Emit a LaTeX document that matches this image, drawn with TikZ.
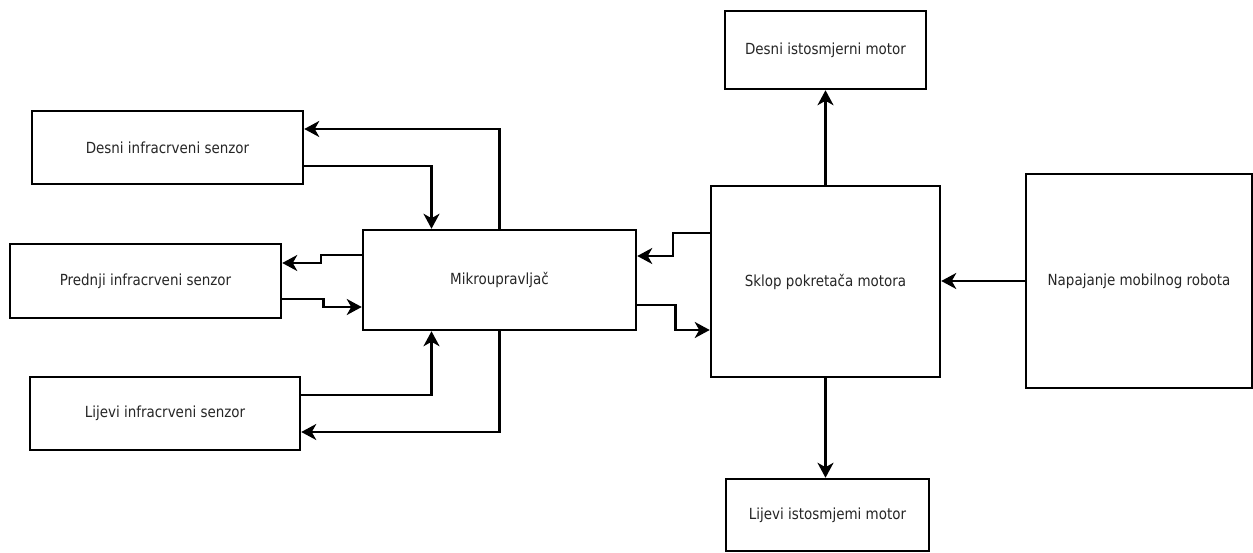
\documentclass[tikz,border=0pt]{standalone}
\usepackage{fontspec}
\setmainfont{DejaVu Sans}[FakeStretch=0.88]
\usetikzlibrary{arrows.meta}
\begin{document}
\begin{tikzpicture}[x=1pt,y=-1pt,
  blk/.style={draw=black,line width=2.5pt,fill=white,inner sep=0pt,font=\fontsize{15.3}{18}\selectfont,text=black!85},
  arr/.style={line width=2.5pt,-{Stealth[length=15pt,width=16pt,inset=4.5pt]}}]
\useasboundingbox[fill=white] (0,0) rectangle (1253,553);
\node[blk,minimum width=271pt,minimum height=73pt] (ds) at (167.5,147.5) {Desni infracrveni senzor};
\node[blk,minimum width=271pt,minimum height=74pt] (pr) at (145.5,281) {Prednji infracrveni senzor};
\node[blk,minimum width=270pt,minimum height=73pt] (lj) at (165,413.5) {Lijevi infracrveni senzor};
\node[blk,minimum width=273pt,minimum height=100pt] (mk) at (499.5,280) {Mikroupravljač};
\node[blk,minimum width=229pt,minimum height=191pt] (sk) at (825.5,281.5) {Sklop pokretača motora};
\node[blk,minimum width=201pt,minimum height=78pt] (dm) at (825.5,50) {Desni istosmjerni motor};
\node[blk,minimum width=203pt,minimum height=72pt] (lm) at (827.5,515) {Lijevi istosmjemi motor};
\node[blk,minimum width=226pt,minimum height=214pt] (np) at (1139,281) {Napajanje mobilnog robota};
% sensors
\draw[arr] (mk.north) |- ([yshift=18.5pt]ds.east);
\draw[arr] ([yshift=-18.5pt]ds.east) -| ([xshift=-68pt]mk.north);
\draw[arr] ([yshift=18.5pt]lj.east) -| ([xshift=-68pt]mk.south);
\draw[arr] (mk.south) |- ([yshift=-18.5pt]lj.east);
\draw[arr] ([yshift=25pt]mk.west) -- ++(-41,0) |- ([yshift=18pt]pr.east);
\draw[arr] ([yshift=-18pt]pr.east) -- ++(41,0) |- ([yshift=-27pt]mk.west);
% driver
\draw[arr] ([yshift=48.5pt]sk.west) -- ++(-37,0) |- ([yshift=24pt]mk.east);
\draw[arr] ([yshift=-25pt]mk.east) -- ++(38,0) |- ([yshift=-48.5pt]sk.west);
\draw[arr] (sk.north) -- (dm.south);
\draw[arr] (sk.south) -- (sk.south |- lm.north);
\draw[arr] (np.west) -- (np.west -| sk.east);
\end{tikzpicture}
\end{document}
